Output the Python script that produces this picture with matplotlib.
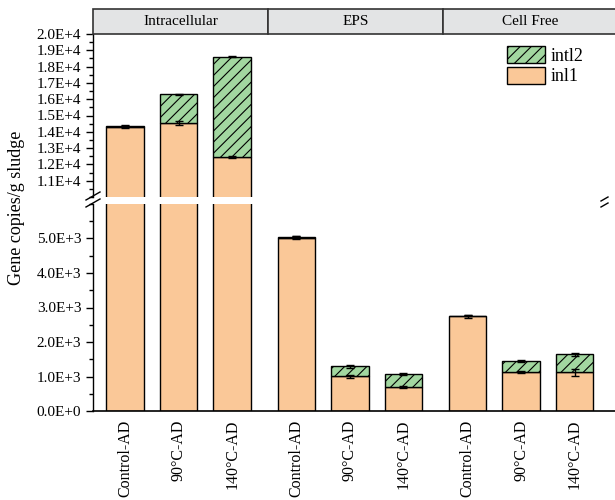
import matplotlib
matplotlib.use("Agg")
import matplotlib.pyplot as plt
from matplotlib.patches import Rectangle, Patch
from matplotlib.ticker import MultipleLocator, FuncFormatter

plt.rcParams['font.family'] = ['Liberation Serif', 'DejaVu Serif']
plt.rcParams['hatch.linewidth'] = 0.8

# gene copies per g sludge, three fractions x three digesters
fractions = ["Intracellular", "EPS", "Cell Free"]
treatments = ["Control-AD", "90°C-AD", "140°C-AD"]
inl1 = [14320, 14550, 12470, 5020, 1010, 690, 2740, 1127, 1116]
intl2 = [60, 1750, 6140, 30, 280, 375, 20, 327, 531]
inl1_err = [60, 110, 50, 40, 40, 30, 50, 30, 90]
intl2_err = [30, 40, 40, 30, 30, 30, 20, 25, 40]

PEACH = '#FAC898'
GREEN = '#A2D7A0'
W, H = 615, 500
GROUP_STEP = 3.2
XLIM = (-0.6, -0.6 + 3 * 3.27)

xpos = [g * GROUP_STEP + i for g in range(len(fractions)) for i in range(len(treatments))]
totals = [a + b for a, b in zip(inl1, intl2)]
labels = treatments * len(fractions)


def px_axes(left, top, right, bottom):
    return fig.add_axes([left / W, 1 - bottom / H, (right - left) / W, (bottom - top) / H])


def sci(v, pos):
    m, e = f"{v:.1E}".split("E")
    return f"{m}E+{int(e)}"


fig = plt.figure(figsize=(W / 100, H / 100), dpi=100)
ax_top = px_axes(93, 34, 618, 197)
ax_bot = px_axes(93, 204, 618, 411)

for ax in (ax_top, ax_bot):
    ax.bar(xpos, inl1, width=0.7, color=PEACH, edgecolor='black', linewidth=1, zorder=2)
    ax.bar(xpos, intl2, bottom=inl1, width=0.7, color=GREEN, edgecolor='black',
           linewidth=1, hatch='///', zorder=2)
    ax.errorbar(xpos, inl1, yerr=inl1_err, fmt='none', ecolor='black', elinewidth=1,
                capsize=3, capthick=1, zorder=3)
    ax.errorbar(xpos, totals, yerr=intl2_err, fmt='none', ecolor='black', elinewidth=1,
                capsize=3, capthick=1, zorder=3)
    ax.set_xlim(*XLIM)
    ax.spines['right'].set_visible(False)
    ax.yaxis.set_major_formatter(FuncFormatter(sci))
    ax.yaxis.set_minor_locator(MultipleLocator(500))
    ax.tick_params(axis='y', which='major', direction='out', length=5, width=1, labelsize=11)
    ax.tick_params(axis='y', which='minor', direction='out', length=3, width=1)
    ax.spines['left'].set_linewidth(1)

ax_top.set_ylim(10000, 20000)
ax_top.set_yticks(range(11000, 20001, 1000))
ax_top.spines['top'].set_visible(False)
ax_top.spines['bottom'].set_visible(False)
ax_top.set_xticks([])

ax_bot.set_ylim(0, 6000)
ax_bot.set_yticks(range(0, 5001, 1000))
ax_bot.spines['top'].set_visible(False)
ax_bot.spines['bottom'].set_linewidth(1.2)
ax_bot.set_xticks(xpos)
ax_bot.set_xticklabels(labels, rotation=90, fontsize=11.5)
ax_bot.tick_params(axis='x', length=0, pad=6)

# break marks on the left spine and the right edge
kw = dict(color='black', lw=1, clip_on=False)
for y0 in (196, 203):
    fig.add_artist(plt.Line2D([86 / W, 100 / W], [1 - (y0 + 4) / H, 1 - (y0 - 4) / H],
                              transform=fig.transFigure, **kw))
for y0 in (199, 205):
    fig.add_artist(plt.Line2D([601 / W, 608 / W], [1 - (y0 + 2) / H, 1 - (y0 - 2) / H],
                              transform=fig.transFigure, **kw))

# facet header strip
ax_head = px_axes(93, 9, 618, 34)
ax_head.set_xlim(*XLIM)
ax_head.set_ylim(0, 1)
ax_head.axis('off')
for g, name in enumerate(fractions):
    x0 = XLIM[0] + g * 3.27
    ax_head.add_patch(Rectangle((x0, 0), 3.27, 1, facecolor='#E3E4E5', edgecolor='#333333',
                                linewidth=1.2, clip_on=False))
    ax_head.text(x0 + 3.27 / 2, 0.5, name, ha='center', va='center', fontsize=11)

handles = [Patch(facecolor=GREEN, edgecolor='black', hatch='///', label='intl2'),
           Patch(facecolor=PEACH, edgecolor='black', label='inl1')]
ax_top.legend(handles=handles, loc='upper left', bbox_to_anchor=((507 - 93) / 525, 1 - 12 / 163),
              frameon=False, fontsize=13, handlelength=2.1, handleheight=1.1,
              handletextpad=0.3, labelspacing=0.1, borderpad=0, borderaxespad=0)

fig.text(17 / W, 1 - 208 / H, 'Gene copies/g sludge', rotation=90, ha='center', va='center',
         fontsize=13)

fig.savefig('out.png', dpi=100)
